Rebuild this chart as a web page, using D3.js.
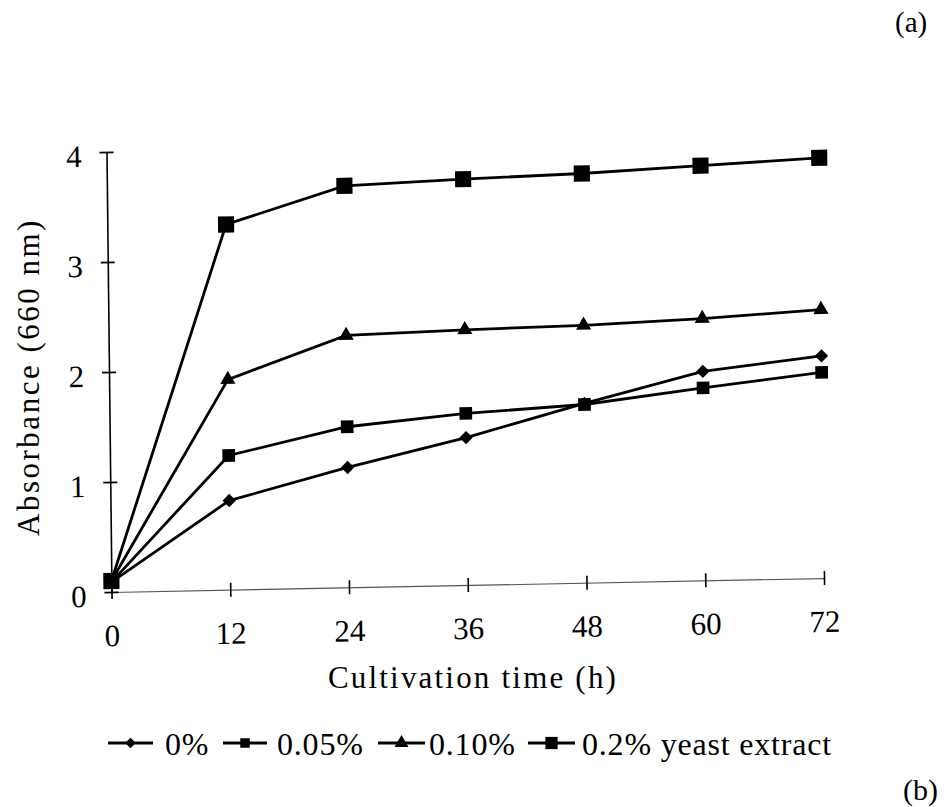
<!DOCTYPE html>
<html>
<head>
<meta charset="utf-8">
<script src="https://cdn.jsdelivr.net/npm/d3@7"></script>
<style>
  body { margin: 0; background: #fff; }
  text { font-family: "Liberation Serif", "Times New Roman", serif; fill: #000; }
</style>
</head>
<body>
<div id="container"></div>
<script>
/* CONSTANTS AND GLOBALS */
const width = 952, height = 807,
margin = {top: 152, bottom: 215, left: 111.5, right: 128};

/* DATA */
const hours = [0, 12, 24, 36, 48, 60, 72];
const xTicks = [0, 12, 24, 36, 48, 60, 72];
const yTicks = [0, 1, 2, 3, 4];
const seriesNames = ["0%", "0.05%", "0.10%", "0.2% yeast extract"];
const yeast0 = [0.09, 0.81, 1.09, 1.34, 1.63, 1.90, 2.02];
const yeast005 = [0.09, 1.22, 1.46, 1.56, 1.62, 1.75, 1.87];
const yeast010 = [0.10, 1.91, 2.29, 2.32, 2.34, 2.38, 2.44];
const yeast02 = [0.10, 3.32, 3.65, 3.69, 3.72, 3.77, 3.82];

const series = [
  {name: seriesNames[0], values: yeast0, shape: "diamond", size: 90, legSize: 55},
  {name: seriesNames[1], values: yeast005, shape: "square", size: 160, legSize: 90},
  {name: seriesNames[2], values: yeast010, shape: "triangle", size: 100, legSize: 85},
  {name: seriesNames[3], values: yeast02, shape: "square", size: 260, legSize: 150}
];

/* SCALES */
const xScale = d3.scaleLinear()
  .domain([0, 72])
  .range([margin.left, width - margin.right]);

const yScale = d3.scaleLinear()
  .domain([0, 4])
  .range([height - margin.bottom, margin.top]);

const svg = d3.select("#container")
  .append("svg")
  .attr("width", width)
  .attr("height", height);

// the scanned figure is slightly skewed: keep the plot in a sheared group
const x0 = xScale(0), y0 = yScale(0);
const plot = svg.append("g")
  .attr("transform", `matrix(1,-0.0196,0.0114,1,${-0.0114 * y0},${0.0196 * x0})`);

// marker path
function marker(shape, size) {
  if (shape === "triangle") return d3.symbol(d3.symbolTriangle, size)();
  return d3.symbol(d3.symbolSquare, size)();
}

//Axes
const xAxis = d3.axisBottom(xScale).tickValues(xTicks).tickSize(7).tickSizeOuter(0).tickPadding(25).tickFormat(d3.format("d"));
const gx = plot.append("g")
  .attr("transform", `translate(0, ${y0})`)
  .call(xAxis);

const yAxis = d3.axisLeft(yScale).tickValues(yTicks).tickSize(7).tickSizeOuter(0).tickPadding(18).tickFormat(d3.format("d"));
const gy = plot.append("g")
  .attr("transform", `translate(${x0},0)`)
  .call(yAxis);

// ticks cross the axis line
gx.selectAll(".tick line").attr("y1", -7).attr("y2", 7);
gy.selectAll(".tick line").attr("x1", 7).attr("x2", -7);
[gx, gy].forEach(g => {
  g.selectAll(".tick line").attr("stroke", "#000").attr("stroke-width", 1.6);
  g.selectAll(".tick text")
    .style("font-size", "31px")
    .style("font-family", "Liberation Serif, serif");
});
gx.select(".domain").attr("stroke", "#555").attr("stroke-width", 1.2);
gy.select(".domain").attr("stroke", "#000").attr("stroke-width", 1.6);
gy.selectAll(".tick text").attr("dy", "0.45em");

//Lines
const line = d3.line()
  .x((d, i) => xScale(hours[i]))
  .y(d => yScale(d));

plot.selectAll(".series")
  .data(series)
  .join("path")
  .attr("class", "series")
  .attr("d", d => line(d.values))
  .attr("fill", "none")
  .attr("stroke", "#000")
  .attr("stroke-width", 2.8);

//Markers
series.forEach(s => {
  plot.append("g")
    .selectAll("path")
    .data(s.values)
    .join("path")
    .attr("d", marker(s.shape, s.size))
    .attr("transform", (d, i) => `translate(${xScale(hours[i])},${yScale(d)})` + (s.shape === "diamond" ? " rotate(45)" : ""))
    .attr("fill", "#000");
});

//Y Label
svg.append("text")
  .attr("x", -377)
  .attr("y", 39)
  .attr("transform", "rotate(-90)")
  .attr("text-anchor", "middle")
  .style("font-size", "31px")
  .style("letter-spacing", "2.5px")
  .text("Absorbance (660 nm)");

//X Label
svg.append("text")
  .attr("x", 473)
  .attr("y", 688)
  .attr("text-anchor", "middle")
  .style("font-size", "31px")
  .style("letter-spacing", "2.2px")
  .text("Cultivation time (h)");

//Legend
const legendX = [108, 223, 378, 528];
const legendW = [45, 44, 47, 47];
const legendTextX = [165, 277, 429, 582];
const legendY = 743;
series.forEach((s, i) => {
  const g = svg.append("g");
  g.append("line")
    .attr("x1", legendX[i]).attr("x2", legendX[i] + legendW[i])
    .attr("y1", legendY).attr("y2", legendY)
    .attr("stroke", "#000").attr("stroke-width", 2.8);
  g.append("path")
    .attr("d", marker(s.shape, s.legSize))
    .attr("transform", `translate(${legendX[i] + legendW[i] / 2},${legendY})` + (s.shape === "diamond" ? " rotate(45)" : ""))
    .attr("fill", "#000");
  g.append("text")
    .attr("x", legendTextX[i])
    .attr("y", 755)
    .style("font-size", "32px")
    .style("letter-spacing", "0.8px")
    .text(s.name);
});

//Panel labels
svg.append("text").attr("x", 895).attr("y", 32).style("font-size", "29px").text("(a)");
svg.append("text").attr("x", 903).attr("y", 800).style("font-size", "30px").text("(b)");
</script>
</body>
</html>
